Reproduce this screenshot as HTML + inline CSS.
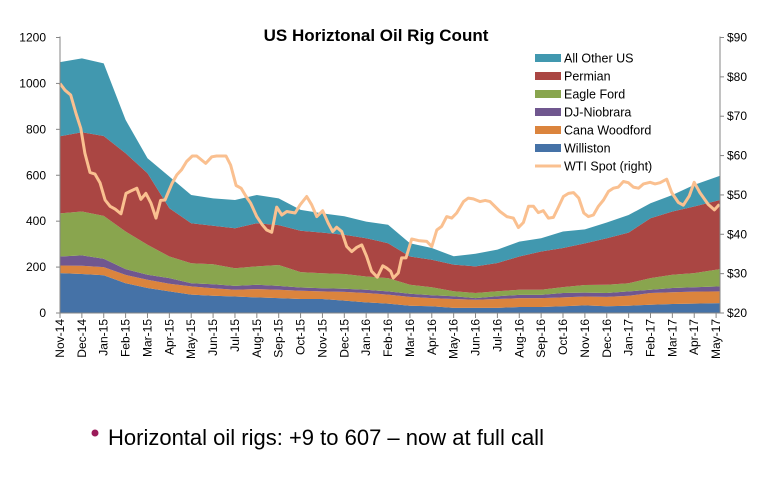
<!DOCTYPE html>
<html><head><meta charset="utf-8"><style>
body{margin:0;background:#fff;width:772px;height:479px;overflow:hidden;font-family:"Liberation Sans",sans-serif}
svg{position:absolute;left:0;top:0}
</style></head><body>
<svg id="chart" width="772" height="479"></svg>
<script>
const months=["Nov-14","Dec-14","Jan-15","Feb-15","Mar-15","Apr-15","May-15","Jun-15","Jul-15","Aug-15","Sep-15","Oct-15","Nov-15","Dec-15","Jan-16","Feb-16","Mar-16","Apr-16","May-16","Jun-16","Jul-16","Aug-16","Sep-16","Oct-16","Nov-16","Dec-16","Jan-17","Feb-17","Mar-17","Apr-17","May-17"];
const williston=[174,170,164,130,109,94,80,75,72,68,65,61,61,54,46,41,32,29,22,22,22,26,26,29,33,29,32,36,39,41,43];
const canaWoodford=[33,36,36,36,36,33,36,33,29,36,36,36,33,38,41,39,38,36,39,36,39,39,39,39,39,41,43,51,51,52,51];
const djNiobrara=[39,45,36,25,22,25,14,17,17,19,17,14,14,14,14,14,14,12,12,7,12,14,14,19,17,17,19,14,19,19,22];
const eagleFord=[188,191,187,164,130,94,87,87,77,80,91,67,65,64,58,58,39,35,22,22,22,22,22,26,33,36,36,51,58,62,75];
const permian=[336,345,348,341,312,210,174,168,174,188,174,180,177,171,167,152,123,120,116,116,123,145,167,170,181,203,220,261,275,290,301];
const allOther=[323,322,316,145,65,138,123,119,123,123,116,91,84,80,72,80,58,51,36,55,58,65,58,72,61,68,77,65,72,94,106];
const wtiMonth=[0,0.23,0.49,0.73,0.95,1.14,1.37,1.6,1.83,2.06,2.29,2.52,2.79,3.02,3.2,3.51,3.7,3.93,4.16,4.39,4.6,4.8,5.11,5.34,5.56,5.79,6.05,6.25,6.66,6.94,7.16,7.59,7.8,8.05,8.28,8.51,8.72,9,9.25,9.45,9.68,9.91,10.14,10.37,10.75,10.98,11.28,11.51,11.74,12.01,12.27,12.47,12.65,12.88,13.11,13.34,13.57,13.8,14.02,14.25,14.51,14.76,14.94,15.12,15.24,15.47,15.62,15.82,16.08,16.39,16.77,17,17.23,17.45,17.68,17.91,18.14,18.45,18.67,18.9,19.21,19.44,19.66,20.12,20.43,20.73,20.96,21.19,21.42,21.65,21.87,22.1,22.33,22.56,22.79,23.02,23.25,23.48,23.72,23.95,24.16,24.39,24.62,24.85,25.08,25.3,25.53,25.76,25.99,26.22,26.45,26.68,26.98,27.21,27.44,27.74,27.97,28.27,28.5,28.77,29,29.26,29.64,29.92,30.15];
const wtiPrice=[78.3,76.6,75.4,70.7,66.9,60.6,55.7,55.3,53.1,48.7,47.1,46.4,45.2,50.4,50.9,51.7,48.9,50.4,47.9,44.1,48.6,48.7,52.8,55.1,56.4,58.5,59.9,59.9,58,59.7,59.9,59.9,57.6,52.4,51.7,49.6,47.9,44.5,42.4,41.1,40.5,46.9,44.9,45.8,45.4,47.5,49.6,47.5,44.5,46,42.8,40.7,41.8,40.7,36.9,35.6,36.7,37.3,34.4,30.6,29.1,32,31.4,30.6,28.9,30.2,34,34,38.8,38.4,38.2,36.9,41.1,42,44.5,44.1,45.4,48.3,49.2,49,48.3,48.6,48.3,45.8,44.5,44.1,41.7,43,47.1,47.1,45.5,46,44.1,44.3,46.9,49.6,50.4,50.6,49.2,45.4,44.5,44.9,47.1,48.7,50.9,51.7,52,53.4,53.1,52,51.7,52.8,53.2,52.8,53.1,54,50.6,48.1,47.4,49.7,53.2,50.6,47.6,46.2,47.6];
const leftTicks=[0,200,400,600,800,1000,1200];
const rightTicks=[20,30,40,50,60,70,80,90];

const NS="http://www.w3.org/2000/svg";
const svg=document.getElementById('chart');
const X0=60,X1=720,Y0=313,Y1=37.5,MW=21.87;
const xm=m=>X0+m*MW;
const xi=i=>i===months.length-1?X1:xm(i); // last point at right edge
const yL=v=>Y0-(v/1200)*(Y0-Y1);
const yR=v=>Y0-((v-20)/70)*(Y0-Y1);
function el(t,a,p){const e=document.createElementNS(NS,t);for(const k in a)e.setAttribute(k,a[k]);(p||svg).appendChild(e);return e;}

// stacked areas
const series=[
 {name:"williston",d:williston,c:"#4572A7"},
 {name:"cana-woodford",d:canaWoodford,c:"#DB843D"},
 {name:"dj-niobrara",d:djNiobrara,c:"#70578F"},
 {name:"eagle-ford",d:eagleFord,c:"#89A54E"},
 {name:"permian",d:permian,c:"#AA4643"},
 {name:"all-other-us",d:allOther,c:"#4198AF"}];
let base=months.map(()=>0);
series.forEach(s=>{
  const top=base.map((b,i)=>b+s.d[i]);
  let p="M"+top.map((v,i)=>xi(i).toFixed(1)+","+yL(v).toFixed(1)).join("L");
  for(let i=base.length-1;i>=0;i--)p+="L"+xi(i).toFixed(1)+","+yL(base[i]).toFixed(1);
  const a=el('path',{d:p+"Z",fill:s.c});
  
  
  base=top;
});
// WTI line
const lp=wtiMonth.map((m,i)=>(i?"L":"M")+Math.min(xm(m),X1).toFixed(1)+","+yR(wtiPrice[i]).toFixed(1)).join("");
const wl=el('path',{d:lp,fill:"none",stroke:"#FAC090","stroke-width":3,"stroke-linejoin":"round"});



// axes
const ax=el('g',{stroke:"#868686","stroke-width":1});


el('line',{x1:X0,y1:Y1-1,x2:X0,y2:Y0},ax);
el('line',{x1:X1,y1:Y1-1,x2:X1,y2:Y0},ax);
el('line',{x1:X0,y1:Y0,x2:X1,y2:Y0},ax);
leftTicks.forEach(v=>{
  el('line',{x1:X0-4,y1:yL(v),x2:X0,y2:yL(v)},ax);
  const t=el('text',{x:46,y:yL(v)+4,"text-anchor":"end","font-size":12,fill:"#000"});
  t.textContent=v;
  
  
});
rightTicks.forEach(v=>{
  el('line',{x1:X1,y1:yR(v),x2:X1+4,y2:yR(v)},ax);
  const t=el('text',{x:727,y:yR(v)+4,"font-size":12,fill:"#000"});
  t.textContent="$"+v;
  
  
});
months.forEach((m,i)=>{
  const x=xm(i);
  el('line',{x1:x,y1:Y0,x2:x,y2:Y0+5},ax);
  const t=el('text',{x:0,y:0,"text-anchor":"end","font-size":12,fill:"#000",transform:`translate(${x+4},${Y0+6}) rotate(-90)`});
  t.textContent=m;
  
  
});

// title
const ti=el('text',{x:376,y:41,"text-anchor":"middle","font-size":17,"font-weight":"bold",fill:"#000"});
ti.textContent="US Horiztonal Oil Rig Count";



// legend
const leg=[["All Other US","#4198AF"],["Permian","#AA4643"],["Eagle Ford","#89A54E"],["DJ-Niobrara","#70578F"],["Cana Woodford","#DB843D"],["Williston","#4572A7"]];
leg.forEach((l,i)=>{
  const y=58+i*18;
  const g=el('g',{});
  
  
  el('rect',{x:535,y:y-4,width:26,height:8,fill:l[1]},g);
  const t=el('text',{x:564,y:y+4.5,"font-size":12.5,fill:"#000"},g);t.textContent=l[0];
});
const lg=el('g',{});


el('line',{x1:535,y1:166,x2:561,y2:166,stroke:"#FAC090","stroke-width":3},lg);
const lt=el('text',{x:564,y:170.5,"font-size":12.5,fill:"#000"},lg);lt.textContent="WTI Spot (right)";

// bullet text
const b=el('circle',{cx:95,cy:433,r:3.5,fill:"#9B1B5A"});


const bt=el('text',{x:108,y:445,"font-size":22,fill:"#000"});
bt.textContent="Horizontal oil rigs: +9 to 607 \u2013 now at full call";


</script>
</body></html>
